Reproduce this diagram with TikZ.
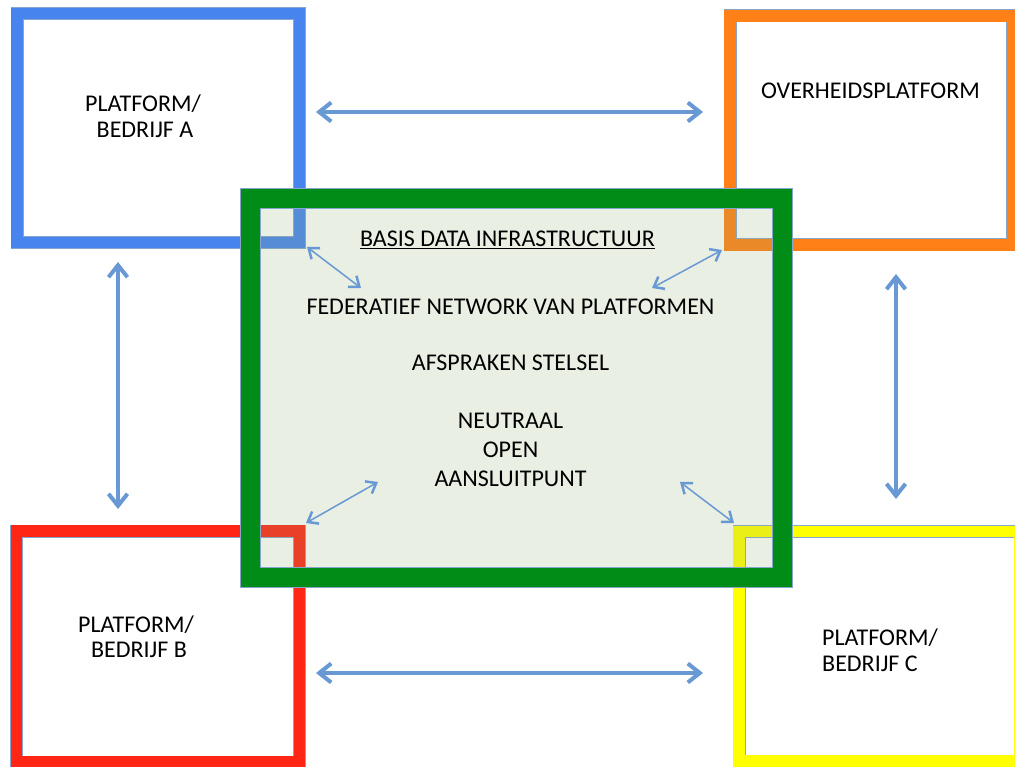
\documentclass[tikz,border=0pt]{standalone}
\usepackage{fontspec}
\setmainfont{Carlito}
\usetikzlibrary{arrows.meta}
\definecolor{cblue}{RGB}{72,132,238}
\definecolor{corange}{RGB}{255,128,22}
\definecolor{cred}{RGB}{255,38,22}
\definecolor{cyellow}{RGB}{255,255,0}
\definecolor{cgreen}{RGB}{0,140,22}
\definecolor{cfill}{RGB}{145,175,115}
\definecolor{cedge}{RGB}{135,165,205}
\definecolor{carrow}{RGB}{105,153,212}
\tikzset{
  frame/.style={rectangle, inner sep=0pt, draw=cedge, line width=0.7pt, double distance=#1},
  lbl/.style={inner sep=0pt, anchor=base, font=\fontsize{24}{26}\selectfont, text=black},
  bigarrow/.style={draw=carrow, line width=4pt, line cap=round,
    {Straight Barb[length=12pt,width=19pt,line width=4pt]}-{Straight Barb[length=12pt,width=19pt,line width=4pt]}},
  smallarrow/.style={draw=carrow, line width=1.5pt, line cap=round,
    {Straight Barb[length=9pt,width=14pt,line width=2.5pt]}-{Straight Barb[length=9pt,width=14pt,line width=2.5pt]}}
}
\begin{document}
\begin{tikzpicture}[x=1pt,y=-1pt]
\useasboundingbox (0,0) rectangle (1015,767);
\fill[white] (0,0) rectangle (1015,767);
% coloured frames
\node[frame=11.6pt, double=cblue, minimum width=282.5pt, minimum height=229pt] (A) at (158.25,128) {};
\node[frame=11.6pt, double=corange, minimum width=282.5pt, minimum height=229pt] (O) at (871.25,130.5) {};
\node[frame=11.6pt, double=cred, minimum width=283pt, minimum height=231pt] (B) at (158,646.5) {};
\node[frame=11.6pt, double=cyellow, minimum width=281pt, minimum height=229.5pt] (C) at (879.5,646.25) {};
% central frame
\fill[cfill, fill opacity=0.2] (250.5,198.5) rectangle (782.5,577.5);
\node[frame=19.4pt, double=cgreen, minimum width=532pt, minimum height=379pt] (G) at (516.5,388) {};
% labels
\node[lbl] (a1) at (143,112) {PLATFORM/};
\node[lbl] (a2) at (145,138) {BEDRIJF A};
\node[lbl] (o1) at (870.5,99) {OVERHEIDSPLATFORM};
\node[lbl] (b1) at (136,632) {PLATFORM/};
\node[lbl] (b2) at (139,657) {BEDRIJF B};
\node[lbl, anchor=base west] (c1) at (822,645) {PLATFORM/};
\node[lbl, anchor=base west] (c2) at (822,671) {BEDRIJF C};
\node[lbl] (g1) at (507.5,247) {\underline{BASIS DATA INFRASTRUCTUUR}};
\node[lbl] (g2) at (510.5,315) {FEDERATIEF NETWORK VAN PLATFORMEN};
\node[lbl] (g3) at (510.5,370.5) {AFSPRAKEN STELSEL};
\node[lbl] (g4) at (510.5,428) {NEUTRAAL};
\node[lbl] (g5) at (510.5,457) {OPEN};
\node[lbl] (g6) at (510.5,486) {AANSLUITPUNT};
% arrow end points
\coordinate (ta) at (316,112);  \coordinate (tb) at (703,112);
\coordinate (ba) at (316,673);  \coordinate (bb) at (703,673);
\coordinate (la) at (118,262);  \coordinate (lb) at (118,509);
\coordinate (ra) at (896,274);  \coordinate (rb) at (896,499);
\coordinate (d1a) at (307,247); \coordinate (d1b) at (361,288);
\coordinate (d2a) at (722,250); \coordinate (d2b) at (652,288);
\coordinate (d3a) at (306,523); \coordinate (d3b) at (378,482);
\coordinate (d4a) at (680,482); \coordinate (d4b) at (734,523);
\draw[bigarrow] (ta) -- (tb);
\draw[bigarrow] (ba) -- (bb);
\draw[bigarrow] (la) -- (lb);
\draw[bigarrow] (ra) -- (rb);
\draw[smallarrow] (d1a) -- (d1b);
\draw[smallarrow] (d2a) -- (d2b);
\draw[smallarrow] (d3a) -- (d3b);
\draw[smallarrow] (d4a) -- (d4b);
\end{tikzpicture}
\end{document}
